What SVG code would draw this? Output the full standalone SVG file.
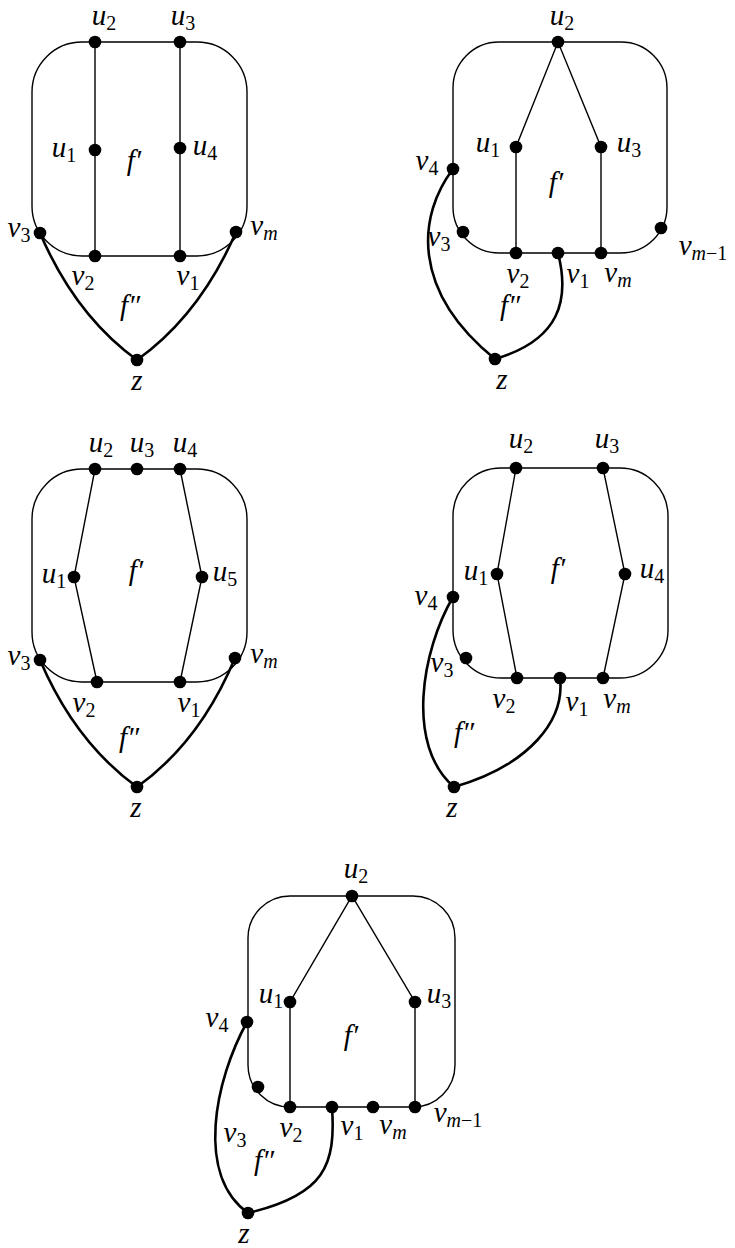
<svg xmlns="http://www.w3.org/2000/svg" width="735" height="1248" viewBox="0 0 735 1248">
<style>
.bg{fill:#fff}
.e{fill:none;stroke:#000;stroke-width:1.4}
.t{fill:none;stroke:#000;stroke-width:2.6}
.n{fill:#000}
.lb{font-family:"Liberation Serif",serif;font-style:italic;font-size:29px;text-anchor:middle;fill:#000}
.sb{font-size:20px;font-style:normal}
.sm{font-size:20px;font-style:italic}
</style>
<rect class="bg" x="0" y="0" width="735" height="1248"/>
<g id="connectors">
  <!-- diagram 1 -->
  <rect class="e" x="32" y="42" width="215" height="214" rx="50"/>
  <line class="e" x1="95" y1="42" x2="95" y2="256"/>
  <line class="e" x1="180" y1="42" x2="180" y2="256"/>
  <path class="t" d="M40,233 Q75,315 137,360"/>
  <path class="t" d="M236,232 Q200,315 137,360"/>
  <!-- diagram 2 -->
  <rect class="e" x="453" y="42" width="214" height="211" rx="46"/>
  <polyline class="e" points="516,253 516,147 558,42 601,147 601,253"/>
  <path class="t" d="M453,169 C418,215 410,290 495,359"/>
  <path class="t" d="M558,253 C570,300 560,340 495,359"/>
  <!-- diagram 3 -->
  <rect class="e" x="32" y="469" width="215" height="213" rx="50"/>
  <polyline class="e" points="95,469 74,577 97,682"/>
  <polyline class="e" points="180,469 202,577 180,682"/>
  <path class="t" d="M40,660 Q75,742 137,787"/>
  <path class="t" d="M235,658 Q200,742 137,787"/>
  <!-- diagram 4 -->
  <rect class="e" x="453" y="468" width="215" height="210" rx="48"/>
  <polyline class="e" points="516,468 497,574 517,678"/>
  <polyline class="e" points="603,468 625,574 603,678"/>
  <path class="t" d="M453,597 C422,650 405,745 454,787"/>
  <path class="t" d="M560,678 C565,720 530,765 454,787"/>
  <!-- diagram 5 -->
  <rect class="e" x="248" y="896" width="207" height="211" rx="42"/>
  <polyline class="e" points="290,1107 290,1002 352,896 415,1002 415,1107"/>
  <path class="t" d="M247,1022 C215,1080 195,1175 248,1213"/>
  <path class="t" d="M332,1107 C336,1165 325,1195 248,1213"/>
</g>

<g id="diagram1">
  <g id="d1-u2"><circle class="n" cx="95" cy="42" r="6.3"/><text class="lb" x="104" y="25">u<tspan class="sb" dy="5">2</tspan></text></g>
  <g id="d1-u3"><circle class="n" cx="180" cy="42" r="6.3"/><text class="lb" x="183" y="25">u<tspan class="sb" dy="5">3</tspan></text></g>
  <g id="d1-u1"><circle class="n" cx="95" cy="150" r="6.3"/><text class="lb" x="64" y="157">u<tspan class="sb" dy="5">1</tspan></text></g>
  <g id="d1-u4"><circle class="n" cx="180" cy="148" r="6.3"/><text class="lb" x="205" y="155">u<tspan class="sb" dy="5">4</tspan></text></g>
  <g id="d1-v3"><circle class="n" cx="40" cy="233" r="6.3"/><text class="lb" x="19" y="237">v<tspan class="sb" dy="5">3</tspan></text></g>
  <g id="d1-vm"><circle class="n" cx="236" cy="232" r="6.3"/><text class="lb" x="264" y="235">v<tspan class="sm" dy="5">m</tspan></text></g>
  <g id="d1-v2"><circle class="n" cx="95" cy="256" r="6.3"/><text class="lb" x="83" y="285">v<tspan class="sb" dy="5">2</tspan></text></g>
  <g id="d1-v1"><circle class="n" cx="180" cy="256" r="6.3"/><text class="lb" x="188" y="285">v<tspan class="sb" dy="5">1</tspan></text></g>
  <g id="d1-z"><circle class="n" cx="137" cy="360" r="6.3"/><text class="lb" x="137" y="390">z</text></g>
  <text class="lb" x="134" y="170">f′</text>
  <text class="lb" x="130" y="315">f″</text>
</g>

<g id="diagram2">
  <g id="d2-u2"><circle class="n" cx="558" cy="42" r="6.3"/><text class="lb" x="562" y="25">u<tspan class="sb" dy="5">2</tspan></text></g>
  <g id="d2-u1"><circle class="n" cx="516" cy="147" r="6.3"/><text class="lb" x="488" y="152">u<tspan class="sb" dy="5">1</tspan></text></g>
  <g id="d2-u3"><circle class="n" cx="601" cy="147" r="6.3"/><text class="lb" x="629" y="152">u<tspan class="sb" dy="5">3</tspan></text></g>
  <g id="d2-v4"><circle class="n" cx="453" cy="169" r="6.3"/><text class="lb" x="427" y="170">v<tspan class="sb" dy="5">4</tspan></text></g>
  <g id="d2-v3"><circle class="n" cx="463" cy="232" r="6.3"/><text class="lb" x="439" y="246">v<tspan class="sb" dy="5">3</tspan></text></g>
  <g id="d2-v2"><circle class="n" cx="516" cy="253" r="6.3"/><text class="lb" x="518" y="283">v<tspan class="sb" dy="5">2</tspan></text></g>
  <g id="d2-v1"><circle class="n" cx="558" cy="253" r="6.3"/><text class="lb" x="578" y="283">v<tspan class="sb" dy="5">1</tspan></text></g>
  <g id="d2-vm"><circle class="n" cx="601" cy="253" r="6.3"/><text class="lb" x="618" y="282">v<tspan class="sm" dy="5">m</tspan></text></g>
  <g id="d2-vm1"><circle class="n" cx="661" cy="228" r="6.3"/><text class="lb" x="703" y="255">v<tspan class="sm" dy="5">m</tspan><tspan class="sb">−1</tspan></text></g>
  <g id="d2-z"><circle class="n" cx="495" cy="359" r="6.3"/><text class="lb" x="502" y="389">z</text></g>
  <text class="lb" x="556" y="192">f′</text>
  <text class="lb" x="510" y="315">f″</text>
</g>

<g id="diagram3">
  <g id="d3-u2"><circle class="n" cx="95" cy="469" r="6.3"/><text class="lb" x="101" y="452">u<tspan class="sb" dy="5">2</tspan></text></g>
  <g id="d3-u3"><circle class="n" cx="137" cy="469" r="6.3"/><text class="lb" x="142" y="452">u<tspan class="sb" dy="5">3</tspan></text></g>
  <g id="d3-u4"><circle class="n" cx="180" cy="469" r="6.3"/><text class="lb" x="185" y="452">u<tspan class="sb" dy="5">4</tspan></text></g>
  <g id="d3-u1"><circle class="n" cx="74" cy="577" r="6.3"/><text class="lb" x="54" y="583">u<tspan class="sb" dy="5">1</tspan></text></g>
  <g id="d3-u5"><circle class="n" cx="202" cy="577" r="6.3"/><text class="lb" x="225" y="581">u<tspan class="sb" dy="5">5</tspan></text></g>
  <g id="d3-v3"><circle class="n" cx="40" cy="660" r="6.3"/><text class="lb" x="19" y="665">v<tspan class="sb" dy="5">3</tspan></text></g>
  <g id="d3-vm"><circle class="n" cx="235" cy="658" r="6.3"/><text class="lb" x="264" y="663">v<tspan class="sm" dy="5">m</tspan></text></g>
  <g id="d3-v2"><circle class="n" cx="97" cy="682" r="6.3"/><text class="lb" x="84" y="712">v<tspan class="sb" dy="5">2</tspan></text></g>
  <g id="d3-v1"><circle class="n" cx="180" cy="682" r="6.3"/><text class="lb" x="189" y="712">v<tspan class="sb" dy="5">1</tspan></text></g>
  <g id="d3-z"><circle class="n" cx="137" cy="787" r="6.3"/><text class="lb" x="136" y="817">z</text></g>
  <text class="lb" x="136" y="580">f′</text>
  <text class="lb" x="129" y="747">f″</text>
</g>

<g id="diagram4">
  <g id="d4-u2"><circle class="n" cx="516" cy="468" r="6.3"/><text class="lb" x="521" y="448">u<tspan class="sb" dy="5">2</tspan></text></g>
  <g id="d4-u3"><circle class="n" cx="603" cy="468" r="6.3"/><text class="lb" x="607" y="448">u<tspan class="sb" dy="5">3</tspan></text></g>
  <g id="d4-u1"><circle class="n" cx="497" cy="574" r="6.3"/><text class="lb" x="476" y="580">u<tspan class="sb" dy="5">1</tspan></text></g>
  <g id="d4-u4"><circle class="n" cx="625" cy="574" r="6.3"/><text class="lb" x="652" y="578">u<tspan class="sb" dy="5">4</tspan></text></g>
  <g id="d4-v4"><circle class="n" cx="453" cy="597" r="6.3"/><text class="lb" x="426" y="605">v<tspan class="sb" dy="5">4</tspan></text></g>
  <g id="d4-v3"><circle class="n" cx="466" cy="658" r="6.3"/><text class="lb" x="442" y="672">v<tspan class="sb" dy="5">3</tspan></text></g>
  <g id="d4-v2"><circle class="n" cx="517" cy="678" r="6.3"/><text class="lb" x="504" y="708">v<tspan class="sb" dy="5">2</tspan></text></g>
  <g id="d4-v1"><circle class="n" cx="560" cy="678" r="6.3"/><text class="lb" x="577" y="711">v<tspan class="sb" dy="5">1</tspan></text></g>
  <g id="d4-vm"><circle class="n" cx="603" cy="678" r="6.3"/><text class="lb" x="617" y="708">v<tspan class="sm" dy="5">m</tspan></text></g>
  <g id="d4-z"><circle class="n" cx="454" cy="787" r="6.3"/><text class="lb" x="452" y="817">z</text></g>
  <text class="lb" x="558" y="578">f′</text>
  <text class="lb" x="464" y="742">f″</text>
</g>

<g id="diagram5">
  <g id="d5-u2"><circle class="n" cx="352" cy="896" r="6.3"/><text class="lb" x="356" y="878">u<tspan class="sb" dy="5">2</tspan></text></g>
  <g id="d5-u1"><circle class="n" cx="290" cy="1002" r="6.3"/><text class="lb" x="271" y="1003">u<tspan class="sb" dy="5">1</tspan></text></g>
  <g id="d5-u3"><circle class="n" cx="415" cy="1002" r="6.3"/><text class="lb" x="439" y="1003">u<tspan class="sb" dy="5">3</tspan></text></g>
  <g id="d5-v4"><circle class="n" cx="247" cy="1022" r="6.3"/><text class="lb" x="217" y="1027">v<tspan class="sb" dy="5">4</tspan></text></g>
  <g id="d5-v3"><circle class="n" cx="258" cy="1087" r="6.3"/><text class="lb" x="235" y="1142">v<tspan class="sb" dy="5">3</tspan></text></g>
  <g id="d5-v2"><circle class="n" cx="290" cy="1107" r="6.3"/><text class="lb" x="291" y="1137">v<tspan class="sb" dy="5">2</tspan></text></g>
  <g id="d5-v1"><circle class="n" cx="332" cy="1107" r="6.3"/><text class="lb" x="352" y="1135">v<tspan class="sb" dy="5">1</tspan></text></g>
  <g id="d5-vm"><circle class="n" cx="373" cy="1107" r="6.3"/><text class="lb" x="393" y="1134">v<tspan class="sm" dy="5">m</tspan></text></g>
  <g id="d5-vm1"><circle class="n" cx="415" cy="1107" r="6.3"/><text class="lb" x="458" y="1122">v<tspan class="sm" dy="5">m</tspan><tspan class="sb">−1</tspan></text></g>
  <g id="d5-z"><circle class="n" cx="248" cy="1213" r="6.3"/><text class="lb" x="244" y="1243">z</text></g>
  <text class="lb" x="351" y="1045">f′</text>
  <text class="lb" x="264" y="1170">f″</text>
</g>
</svg>
